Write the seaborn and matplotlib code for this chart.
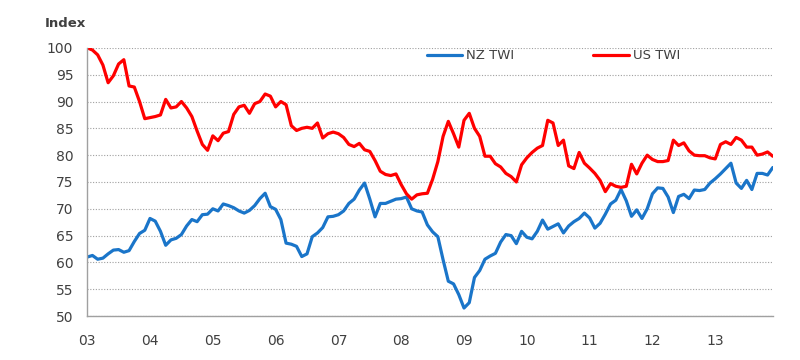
import numpy as np
import pandas as pd
import matplotlib
matplotlib.use("Agg")
import matplotlib.pyplot as plt
import seaborn as sns

# monthly index values, Jan 2003 - Dec 2013
nz_twi = [
    61.0, 61.3, 60.6, 60.8, 61.6, 62.3, 62.4, 61.9, 62.2, 63.9, 65.4, 66.0,
    68.2, 67.7, 65.8, 63.2, 64.2, 64.5, 65.2, 66.8, 68.0, 67.6, 68.9, 69.0,
    70.0, 69.6, 70.9, 70.6, 70.2, 69.6, 69.2, 69.7, 70.6, 71.9, 72.9, 70.4,
    69.9, 68.0, 63.6, 63.4, 63.0, 61.1, 61.6, 64.8, 65.5, 66.5, 68.5, 68.6,
    68.9, 69.6, 71.0, 71.8, 73.5, 74.8, 71.8, 68.5, 71.0, 71.0, 71.4, 71.8,
    71.9, 72.2, 70.0, 69.6, 69.4, 67.0, 65.7, 64.8, 60.5, 56.5, 56.0, 54.0,
    51.5, 52.5, 57.2, 58.5, 60.6, 61.2, 61.7, 63.8, 65.2, 65.0, 63.5, 65.8,
    64.7, 64.4, 65.8, 67.9, 66.2, 66.7, 67.2, 65.5, 66.8, 67.6, 68.2, 69.2,
    68.3, 66.4, 67.3, 69.0, 70.9, 71.6, 73.6, 71.5, 68.6, 69.8, 68.2, 70.0,
    72.8, 73.9, 73.8, 72.2, 69.3, 72.3, 72.7, 71.9, 73.5, 73.4, 73.6, 74.8,
    75.6, 76.5, 77.5, 78.5, 74.8, 73.8, 75.3, 73.6, 76.6, 76.6, 76.3, 77.7,
]

us_twi = [
    100.0, 99.6, 98.7, 96.8, 93.5, 94.8, 97.0, 97.8, 92.9, 92.7, 90.0, 86.8,
    87.0, 87.2, 87.5, 90.4, 88.8, 89.0, 90.0, 88.8, 87.2, 84.5, 82.0, 80.9,
    83.6, 82.7, 84.1, 84.4, 87.6, 89.0, 89.3, 87.8, 89.6, 90.0, 91.4, 91.0,
    89.0, 90.0, 89.4, 85.5, 84.6, 85.0, 85.2, 85.0, 86.0, 83.2, 84.0, 84.3,
    84.0, 83.3, 82.0, 81.6, 82.2, 81.0, 80.7, 79.0, 77.0, 76.4, 76.2, 76.5,
    74.5, 72.8, 71.8, 72.6, 72.8, 72.9, 75.5, 78.8, 83.5, 86.3, 84.0, 81.5,
    86.5, 87.8, 85.0, 83.5, 79.8, 79.8, 78.4, 77.8, 76.6, 76.0, 75.0, 78.2,
    79.5, 80.5, 81.3, 81.8, 86.5, 86.0, 81.8, 82.8, 78.0, 77.5, 80.5, 78.5,
    77.6, 76.6, 75.3, 73.2, 74.7, 74.2, 74.0, 74.2, 78.3, 76.5, 78.5, 80.0,
    79.2, 78.8, 78.8, 79.0, 82.8, 81.8, 82.3, 80.8, 80.0, 79.9, 79.9, 79.5,
    79.3, 82.0, 82.5, 82.0, 83.3, 82.8, 81.5, 81.5, 80.0, 80.2, 80.6, 79.8,
]

year_ticks = list(range(2003, 2014))
year_labels = ["03", "04", "05", "06", "07", "08", "09", "10", "11", "12", "13"]

t = 2003 + np.arange(len(nz_twi)) / 12
df = pd.DataFrame({
    "t": np.concatenate([t, t]),
    "value": nz_twi + us_twi,
    "series": ["NZ TWI"] * len(nz_twi) + ["US TWI"] * len(us_twi),
})

sns.set_style("white")
plt.rcParams["font.family"] = ["DejaVu Sans"]
text_col = "#404040"

fig = plt.figure(figsize=(8, 3.6), dpi=100)
ax = fig.add_axes([0.109, 0.122, 0.857, 0.745])

sns.lineplot(data=df, x="t", y="value", hue="series",
             palette={"NZ TWI": "#1a75c9", "US TWI": "#ff0000"},
             linewidth=2.3, ax=ax)

ax.set_xlim(2003, 2013 + 11 / 12)
ax.set_ylim(50, 100)
ax.set_yticks(range(50, 101, 5))
ax.set_xticks(year_ticks)
ax.set_xticklabels(year_labels)
ax.set_xlabel("")
ax.set_ylabel("")

ax.yaxis.grid(True, linestyle=(0, (1, 1.5)), color="#a0a0a0", linewidth=0.8)
ax.set_axisbelow(True)
for s in ["top", "right"]:
    ax.spines[s].set_visible(False)
for s in ["left", "bottom"]:
    ax.spines[s].set_color("#a0a0a0")
    ax.spines[s].set_linewidth(1.0)

ax.tick_params(axis="both", direction="out", length=5, width=1,
               color="#a0a0a0", labelsize=10, labelcolor=text_col)
ax.tick_params(axis="x", pad=8)
ax.tick_params(axis="y", pad=5)

fig.text(0.056, 0.935, "Index", fontsize=9.5, fontweight="bold",
         color=text_col, va="center", ha="left")

leg = ax.legend(loc="center", bbox_to_anchor=(0.68, 0.97), ncol=2,
                frameon=False, fontsize=9.5, handlelength=2.7,
                handletextpad=0.3, columnspacing=6.0)
for txt in leg.get_texts():
    txt.set_color(text_col)

fig.savefig("out.png", dpi=100)
